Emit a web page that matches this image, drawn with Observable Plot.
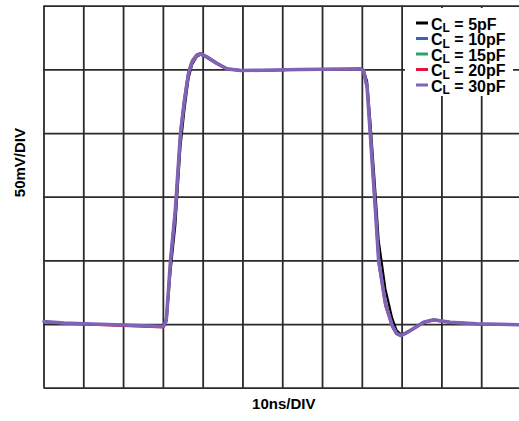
<!DOCTYPE html>
<html>
<head>
<meta charset="utf-8">
<script src="https://cdn.jsdelivr.net/npm/d3@7"></script>
<script src="https://cdn.jsdelivr.net/npm/@observablehq/plot@0.6"></script>
<style>
  html, body { margin: 0; padding: 0; background: white; }
  #chart { position: relative; width: 519px; height: 421px; }
</style>
</head>
<body>
<div id="chart"></div>
<script>
// time axis (ns) — 10 ns/div
const timeNs = [0, 5, 10, 20, 30, 30.5, 30.8, 31.8, 33.0, 34.3, 35.3, 36.3, 37.2, 38.3, 39.3, 41.0, 43.5, 46.0, 49.4, 54.4, 64.4, 74.5, 79.5, 80.3, 81.2, 82.0, 83.3, 84.1, 85.8, 87.5, 88.6, 89.6, 90.8, 92.1, 95.4, 97.9, 102.1, 108.8, 120];

// output (mV) — 50 mV/div, one array per load capacitance
const cl5pF  = [52.0, 51.0, 50.4, 49.4, 48.3, 50.0, 53.0, 92, 128, 190, 219, 243, 254, 260, 262, 259.5, 254.5, 250.5, 249.4, 249.5, 250.1, 250.5, 250.6, 250.0, 241, 210, 153, 116, 78, 55, 45.5, 42.5, 43.5, 45.8, 52, 53.8, 51.9, 50.6, 49.9];
const cl10pF = [52.2, 51.1, 50.6, 49.5, 48.4, 51.3, 55.2, 99, 138, 198.5, 225, 246.5, 255.8, 260.8, 262.3, 259.8, 254.8, 250.7, 249.5, 249.6, 250.2, 250.6, 250.7, 249.6, 237, 202, 142, 103, 68, 50, 43.5, 41.6, 43.2, 45.5, 51.9, 53.8, 51.9, 50.6, 49.9];
const cl15pF = [52.0, 51.0, 50.5, 49.4, 48.3, 51.4, 56, 101, 140.5, 201, 227, 248, 256.5, 261.5, 262.8, 260.2, 255.2, 250.9, 249.6, 249.6, 250.2, 250.6, 250.7, 249.4, 236, 199, 138.5, 99.5, 65.5, 48.8, 42.8, 41.2, 42.8, 45.2, 51.6, 53.5, 51.7, 50.5, 49.8];
const cl20pF = [51.8, 50.8, 50.2, 49.0, 47.8, 51.0, 56.5, 102, 142, 203, 229, 249, 257.5, 262, 263.2, 260.5, 255.5, 251, 249.8, 249.4, 250.1, 250.4, 250.5, 249.2, 235, 197, 137, 98, 64.5, 48.2, 42.5, 41.0, 42.5, 45, 51.3, 53.2, 51.4, 50.3, 49.6];
const cl30pF = [52.4, 51.2, 50.6, 49.6, 48.5, 51.6, 55.8, 100.3, 139.5, 200, 226, 247, 256, 261, 262.6, 260, 255, 250.8, 249.5, 249.7, 250.3, 250.7, 250.8, 249.5, 236.4, 200, 139.5, 100.3, 66.5, 49.2, 43, 41.4, 43, 45.3, 51.8, 53.7, 51.8, 50.6, 49.8];

const seriesNames  = ["5pF", "10pF", "15pF", "20pF", "30pF"];
const seriesValues = [cl5pF, cl10pF, cl15pF, cl20pF, cl30pF];
const seriesColors = ["#000000", "#3d63ad", "#2ea267", "#e2133d", "#7e63b6"];
const seriesWidths = [2.2, 2.2, 2.2, 2.2, 3.6];

// grid divisions
const xGrid = [0, 10, 20, 30, 40, 50, 60, 70, 80, 90, 100, 110];
const yGrid = [0, 50, 100, 150, 200, 250, 300];

const xLabel = "10ns/DIV";
const yLabel = "50mV/DIV";

const lineMarks = seriesNames.map((name, k) =>
  Plot.line(timeNs.map((t, i) => ({t, v: seriesValues[k][i]})), {
    x: "t", y: "v", stroke: seriesColors[k], strokeWidth: seriesWidths[k],
    strokeLinejoin: "round", strokeLinecap: "round"
  })
);

const font = "'Liberation Sans', Arial, Helvetica, sans-serif";

const chart = Plot.plot({
  width: 519, height: 421,
  marginLeft: 43.5, marginRight: 0, marginTop: 5.7, marginBottom: 33.3,
  x: {domain: [0, 119.5], axis: null},
  y: {domain: [0, 300], axis: null},
  style: {background: "white", fontFamily: font},
  marks: [
    Plot.ruleX(xGrid, {stroke: "#2a2a2a", strokeWidth: 1.8}),
    Plot.ruleY(yGrid, {stroke: "#2a2a2a", strokeWidth: 1.8}),
    ...lineMarks,
    Plot.text([xLabel], {frameAnchor: "bottom", text: d => d, dy: 20.8, dx: 2,
      fontSize: 15, fontWeight: "bold", fill: "#000"}),
    Plot.text([yLabel], {frameAnchor: "left", text: d => d, rotate: -90, dx: -23.8,
      fontSize: 15, fontWeight: "bold", fill: "#000"})
  ]
});

document.getElementById("chart").appendChild(chart);

// legend (inside the SVG, over a white box)
const svg = d3.select(chart);
const lg = svg.append("g").attr("font-family", font).attr("font-weight", "bold")
  .attr("text-anchor", "start");
lg.append("rect").attr("x", 405).attr("y", 8).attr("width", 108).attr("height", 88).attr("fill", "white");
const rowY = [23, 38.5, 54, 69.5, 85];
seriesNames.forEach((name, k) => {
  const y = rowY[k];
  lg.append("line").attr("x1", 416).attr("x2", 428).attr("y1", y).attr("y2", y)
    .attr("stroke", seriesColors[k]).attr("stroke-width", 3);
  const t = lg.append("text").attr("x", 431).attr("y", y + 6.5).attr("font-size", 16)
    .attr("fill", "#000").attr("text-anchor", "start");
  t.append("tspan").text("C");
  t.append("tspan").attr("font-size", 12).attr("dy", 2.5).text("L");
  t.append("tspan").attr("dy", -2.5).text(" = " + name);
});
</script>
</body>
</html>
